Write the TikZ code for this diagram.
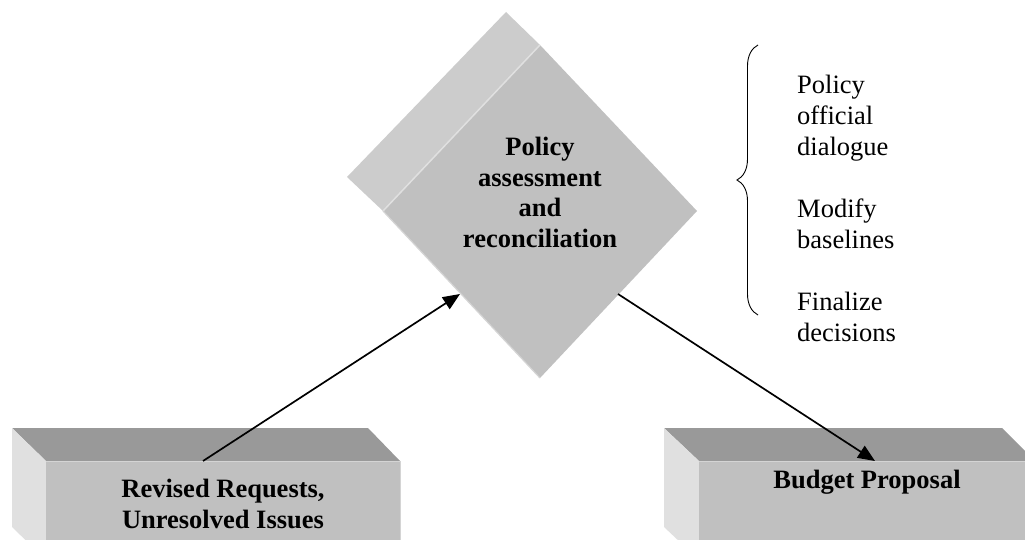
\documentclass[tikz,border=0pt]{standalone}
\usepackage{fontspec}
\setmainfont{Liberation Serif}
\usetikzlibrary{arrows.meta,decorations.pathreplacing}
\definecolor{topface}{HTML}{999999}
\definecolor{frontface}{HTML}{C0C0C0}
\definecolor{sideface}{HTML}{E0E0E0}
\definecolor{backface}{HTML}{CCCCCC}
\definecolor{edgelight}{HTML}{D4D4D4}
\tikzset{
  conn/.style={line width=1.7pt, -{Triangle[length=17pt,width=14pt]}},
  boldtxt/.style={font=\bfseries\fontsize{26.5}{30.7}\selectfont, align=center, inner sep=0pt, anchor=north},
  listtxt/.style={font=\fontsize{26.5}{31}\selectfont, align=left, inner sep=0pt, anchor=north west},
}
\begin{document}
\begin{tikzpicture}[x=1pt,y=-1pt]
\useasboundingbox (0,0) rectangle (1025,540);
\clip (0,0) rectangle (1025,540);

% diamond (extruded)
\fill[backface] (506,12) -- (540,45) -- (383,211) -- (347,177) -- cycle;
\fill[frontface] (540,45) -- (697,211) -- (540,378) -- (383,211) -- cycle;
\draw[sideface, line width=1.5pt] (540,45) -- (383,211);
\draw[edgelight, line width=1.2pt] (383,211) -- (540,378);
\node[boldtxt] (dtext) at (540,137) {Policy\\assessment\\and\\reconciliation};

% left box
\fill[topface] (12,428) -- (368,428) -- (400,461) -- (46,461) -- cycle;
\fill[sideface] (12,428) -- (46,461) -- (46,560) -- (12,527) -- cycle;
\fill[frontface] (46,461) rectangle (400,560);
\draw[edgelight, line width=1.2pt] (46,461.6) -- (400,461.6);
\draw[edgelight, line width=1.5pt] (400.5,461) -- (400.5,560);
\node[boldtxt] (ltext) at (223,479) {Revised Requests,\\Unresolved Issues};

% right box
\fill[topface] (664,428) -- (1002,428) -- (1035,461) -- (699,461) -- cycle;
\fill[sideface] (664,428) -- (699,461) -- (699,560) -- (664,527) -- cycle;
\fill[frontface] (699,461) rectangle (1035,560);
\draw[edgelight, line width=1.2pt] (699,461.6) -- (1035,461.6);
\node[boldtxt] (rtext) at (867,470) {Budget Proposal};

% connectors
\coordinate (lstart) at (203,461);
\coordinate (din) at (460,294);
\coordinate (dout) at (618,294);
\coordinate (rend) at (875,461);
\draw[conn] (lstart) -- (din);
\draw[conn] (dout) -- (rend);

% brace and list
\coordinate (btop) at (758,45);
\coordinate (bbot) at (758,315);
\draw[line width=0.9pt, decorate, decoration={brace, amplitude=21pt}] (bbot) -- (btop);
\node[listtxt] (list) at (797,75) {Policy\\official\\dialogue\\[31pt]Modify\\baselines\\[31pt]Finalize\\decisions};
\end{tikzpicture}
\end{document}
